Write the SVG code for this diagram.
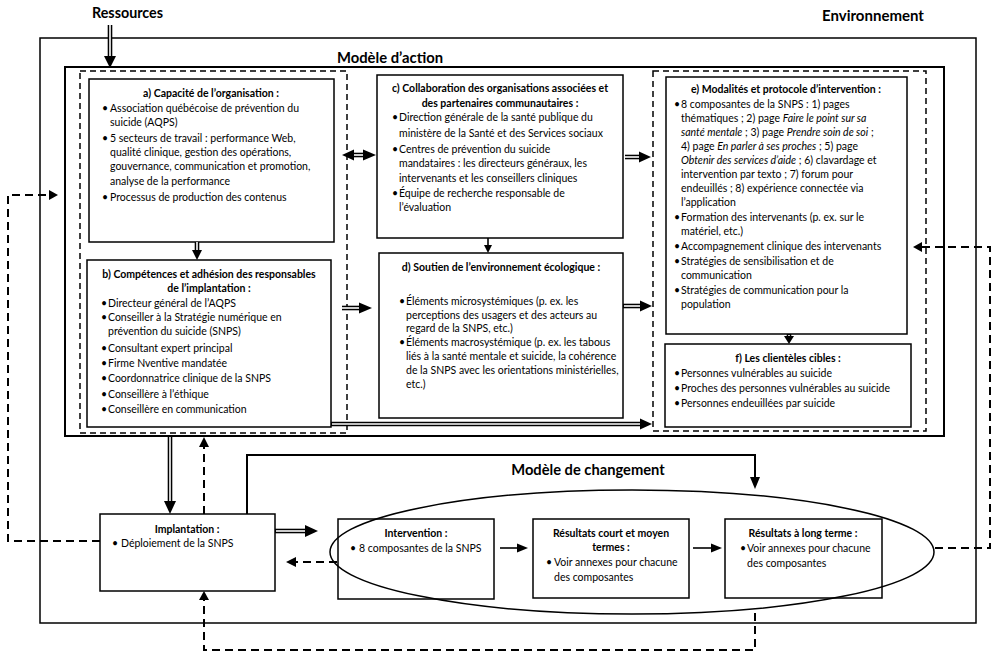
<svg xmlns="http://www.w3.org/2000/svg" width="1000" height="661" viewBox="0 0 1000 661">
<style>
.bx{fill:#fff;stroke:#000;stroke-width:1.5}
.fr{fill:none;stroke:#000;stroke-width:1.5}
.dsh{fill:none;stroke:#000;stroke-width:1.5;stroke-dasharray:6 4}
.t{font-family:Lato,"Liberation Sans",sans-serif;font-size:10.5px;fill:#000}
.b{font-weight:bold}
.c{text-anchor:middle}
.h{font-family:Lato,"Liberation Sans",sans-serif;font-weight:bold;fill:#000}
.dk{stroke:#000;stroke-width:4.6}
.dw{stroke:#fff;stroke-width:1.6}
.sl{fill:none;stroke:#000;stroke-width:1.6}
.dl{fill:none;stroke:#000;stroke-width:2;stroke-dasharray:8 5}
.i{font-style:italic}
</style>
<rect width="1000" height="661" fill="#fff"/>
<g id="frames">
<rect class="fr" x="40" y="38" width="936" height="585"/>
<rect class="fr" x="65" y="67" width="879" height="369" style="stroke-width:2"/>
<rect class="dsh" x="80" y="71" width="267" height="362"/>
<rect class="dsh" x="653" y="71" width="273" height="360"/>
<text class="h" x="92" y="18" font-size="14.3">Ressources</text>
<text class="h" x="822" y="21" font-size="15">Environnement</text>
<text class="h" x="390" y="63" font-size="14.8" text-anchor="middle">Modèle d’action</text>
<text class="h" x="588" y="475" font-size="14.7" text-anchor="middle">Modèle de changement</text>
</g>
<g id="node-a">
<rect class="bx" x="89" y="79" width="245" height="163"/>
<text class="t b c" x="211" y="97">a) Capacité de l’organisation :</text>
<text class="t" x="102" y="112">•</text><text class="t" x="110" y="112">Association québécoise de prévention du</text>
<text class="t" x="110" y="126">suicide (AQPS)</text>
<text class="t" x="102" y="142">•</text><text class="t" x="110" y="142">5 secteurs de travail : performance Web,</text>
<text class="t" x="110" y="156">qualité clinique, gestion des opérations,</text>
<text class="t" x="110" y="170">gouvernance, communication et promotion,</text>
<text class="t" x="110" y="185">analyse de la performance</text>
<text class="t" x="102" y="201">•</text><text class="t" x="110" y="201">Processus de production des contenus</text>
</g>
<g id="node-b">
<rect class="bx" x="87" y="260" width="244" height="167"/>
<text class="t b c" x="209" y="278">b) Compétences et adhésion des responsables</text>
<text class="t b c" x="209" y="292">de l’implantation :</text>
<text class="t" x="101" y="307">•</text><text class="t" x="108" y="307">Directeur général de l’AQPS</text>
<text class="t" x="101" y="321">•</text><text class="t" x="108" y="321">Conseiller à la Stratégie numérique en</text>
<text class="t" x="108" y="335">prévention du suicide (SNPS)</text>
<text class="t" x="101" y="352">•</text><text class="t" x="108" y="352">Consultant expert principal</text>
<text class="t" x="101" y="367">•</text><text class="t" x="108" y="367">Firme Nventive mandatée</text>
<text class="t" x="101" y="382">•</text><text class="t" x="108" y="382">Coordonnatrice clinique de la SNPS</text>
<text class="t" x="101" y="398">•</text><text class="t" x="108" y="398">Conseillère à l’éthique</text>
<text class="t" x="101" y="413">•</text><text class="t" x="108" y="413">Conseillère en communication</text>
</g>
<g id="node-c">
<rect class="bx" x="377" y="75" width="246" height="163"/>
<text class="t b c" x="500" y="92">c) Collaboration des organisations associées et</text>
<text class="t b c" x="500" y="107">des partenaires communautaires :</text>
<text class="t" x="392" y="121">•</text><text class="t" x="399" y="121">Direction générale de la santé publique du</text>
<text class="t" x="399" y="137">ministère de la Santé et des Services sociaux</text>
<text class="t" x="392" y="153">•</text><text class="t" x="399" y="153">Centres de prévention du suicide</text>
<text class="t" x="399" y="167">mandataires : les directeurs généraux, les</text>
<text class="t" x="399" y="182">intervenants et les conseillers cliniques</text>
<text class="t" x="392" y="197">•</text><text class="t" x="399" y="197">Équipe de recherche responsable de</text>
<text class="t" x="399" y="211">l’évaluation</text>
</g>
<g id="node-d">
<rect class="bx" x="379" y="253" width="244" height="165"/>
<text class="t b c" x="501" y="271">d) Soutien de l’environnement écologique :</text>
<text class="t" x="399" y="305">•</text><text class="t" x="406" y="305">Éléments microsystémiques (p. ex. les</text>
<text class="t" x="406" y="319">perceptions des usagers et des acteurs au</text>
<text class="t" x="406" y="332">regard de la SNPS, etc.)</text>
<text class="t" x="399" y="346">•</text><text class="t" x="406" y="346">Éléments macrosystémique (p. ex. les tabous</text>
<text class="t" x="406" y="360">liés à la santé mentale et suicide, la cohérence</text>
<text class="t" x="406" y="374">de la SNPS avec les orientations ministérielles,</text>
<text class="t" x="406" y="388">etc.)</text>
</g>
<g id="node-e">
<rect class="bx" x="666" y="77" width="241" height="257"/>
<text class="t b c" x="786" y="93">e) Modalités et protocole d’intervention :</text>
<text class="t" x="674" y="108">•</text><text class="t" x="681" y="108">8 composantes de la SNPS : 1) pages</text>
<text class="t" x="681" y="122">thématiques ; 2) page <tspan class="i">Faire le point sur sa</tspan></text>
<text class="t" x="681" y="136"><tspan class="i">santé mentale</tspan> ; 3) page <tspan class="i">Prendre soin de soi</tspan> ;</text>
<text class="t" x="681" y="150">4) page <tspan class="i">En parler à ses proches</tspan> ; 5) page</text>
<text class="t" x="681" y="164"><tspan class="i">Obtenir des services d’aide</tspan> ; 6) clavardage et</text>
<text class="t" x="681" y="178">intervention par texto ; 7) forum pour</text>
<text class="t" x="681" y="192">endeuillés ; 8) expérience connectée via</text>
<text class="t" x="681" y="206">l’application</text>
<text class="t" x="674" y="221">•</text><text class="t" x="681" y="221">Formation des intervenants (p. ex. sur le</text>
<text class="t" x="681" y="235">matériel, etc.)</text>
<text class="t" x="674" y="250">•</text><text class="t" x="681" y="250">Accompagnement clinique des intervenants</text>
<text class="t" x="674" y="265">•</text><text class="t" x="681" y="265">Stratégies de sensibilisation et de</text>
<text class="t" x="681" y="279">communication</text>
<text class="t" x="674" y="294">•</text><text class="t" x="681" y="294">Stratégies de communication pour la</text>
<text class="t" x="681" y="308">population</text>
</g>
<g id="node-f">
<rect class="bx" x="665" y="344" width="246" height="83"/>
<text class="t b c" x="788" y="362">f) Les clientèles cibles :</text>
<text class="t" x="674" y="377">•</text><text class="t" x="681" y="377">Personnes vulnérables au suicide</text>
<text class="t" x="674" y="392">•</text><text class="t" x="681" y="392">Proches des personnes vulnérables au suicide</text>
<text class="t" x="674" y="407">•</text><text class="t" x="681" y="407">Personnes endeuillées par suicide</text>
</g>
<g id="node-implantation">
<rect class="bx" x="100" y="514" width="175" height="77"/>
<text class="t b c" x="187" y="533">Implantation :</text>
<text class="t" x="112" y="547">•</text><text class="t" x="121" y="547">Déploiement de la SNPS</text>
</g>
<g id="node-intervention">
<rect class="bx" x="338" y="519" width="156" height="80"/>
<text class="t b c" x="416" y="537">Intervention :</text>
<text class="t" x="350" y="552">•</text><text class="t" x="359" y="552">8 composantes de la SNPS</text>
</g>
<g id="node-court">
<rect class="bx" x="533" y="519" width="156" height="79"/>
<text class="t b c" x="611" y="537">Résultats court et moyen</text>
<text class="t b c" x="611" y="551">termes :</text>
<text class="t" x="546" y="566">•</text><text class="t" x="554" y="566">Voir annexes pour chacune</text>
<text class="t" x="554" y="581">des composantes</text>
</g>
<g id="node-long">
<rect class="bx" x="725" y="519" width="157" height="79"/>
<text class="t b c" x="803" y="537">Résultats à long terme :</text>
<text class="t" x="740" y="552">•</text><text class="t" x="747" y="552">Voir annexes pour chacune</text>
<text class="t" x="747" y="567">des composantes</text>
</g>
<g id="connectors">
<ellipse cx="632" cy="552" rx="302" ry="62" fill="none" stroke="#000" stroke-width="1.5"/>
<line class="dk" x1="110" y1="25" x2="110" y2="57"/><line class="dw" x1="110" y1="25" x2="110" y2="57"/><polygon points="104,56 116,56 110,68"/>
<line class="dk" x1="197" y1="242" x2="197" y2="251"/><line class="dw" x1="197" y1="242" x2="197" y2="251"/><polygon points="192,250 202,250 197,260"/>
<line class="dk" x1="170" y1="436" x2="170" y2="502"/><line class="dw" x1="170" y1="437" x2="170" y2="502"/><polygon points="164,501 176,501 170,514"/>
<line class="dk" x1="275" y1="531" x2="306" y2="531"/><line class="dw" x1="276" y1="531" x2="306" y2="531"/><polygon points="305,525 305,537 318,531"/>
<line class="dk" x1="342" y1="308" x2="360" y2="308"/><line class="dw" x1="342" y1="308" x2="360" y2="308"/><polygon points="359,302.5 359,313.5 372,308"/>
<line class="dk" x1="353" y1="155" x2="364" y2="155"/><line class="dw" x1="353" y1="155" x2="364" y2="155"/><polygon points="342,155 354,149.5 354,160.5"/><polygon points="363,149.5 363,160.5 376,155"/>
<line class="dk" x1="625" y1="157" x2="640" y2="157"/><line class="dw" x1="625" y1="157" x2="640" y2="157"/><polygon points="639,151.5 639,162.5 651,157"/>
<line class="dk" x1="623" y1="306" x2="641" y2="306"/><line class="dw" x1="624" y1="306" x2="641" y2="306"/><polygon points="640,300.5 640,311.5 652,306"/>
<line class="dk" x1="331" y1="424" x2="641" y2="424"/><line class="dw" x1="332" y1="424" x2="641" y2="424"/><polygon points="640,418.5 640,429.5 652,424"/>
<line class="dk" x1="789" y1="334" x2="789" y2="338"/><line class="dw" x1="789" y1="335" x2="789" y2="338"/><polygon points="784,336 794,336 789,344"/>
<line class="sl" x1="488" y1="238" x2="488" y2="246"/><polygon points="484,245 492,245 488,253"/>
<line class="sl" x1="500" y1="548" x2="518" y2="548"/><polygon points="517,543.5 517,552.5 528,548"/>
<line class="sl" x1="693" y1="548" x2="712" y2="548"/><polygon points="711,543.5 711,552.5 722,548"/>
<polyline class="sl" style="stroke-width:2" points="247,514 247,455 755,455 755,478"/><polygon points="750,477 760,477 755,489"/>
<polyline class="dl" points="100,541 8,541 8,195 50,195"/><polygon points="49,190 49,200 58,195"/>
<line class="dl" x1="204" y1="514" x2="204" y2="446"/><polygon points="199,447 209,447 204,437"/>
<polyline class="dl" points="755,613 755,650 204,650 204,600"/><polygon points="199,600 209,600 204,591"/>
<line class="dl" x1="337" y1="562" x2="295" y2="562"/><polygon points="296,557 296,567 286,562"/>
<polyline class="dl" points="935,548 990,548 990,247 921,247"/><polygon points="922,242 922,252 913,247"/>
</g>
</svg>
